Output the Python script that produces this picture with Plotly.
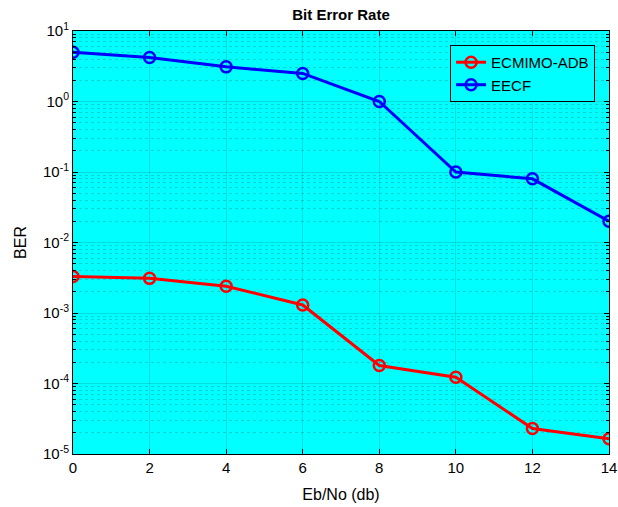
import plotly.graph_objects as go

ebno = [0, 2, 4, 6, 8, 10, 12, 14]
ber_ecmimo = [3.3e-3, 3.1e-3, 2.4e-3, 1.3e-3, 1.8e-4, 1.23e-4, 2.3e-5, 1.65e-5]
ber_eecf = [5.0, 4.2, 3.1, 2.5, 1.0, 0.1, 0.08, 0.02]
y_exponents = [-5, -4, -3, -2, -1, 0, 1]
x_ticks = [0, 2, 4, 6, 8, 10, 12, 14]

def sup(e):
    return "10<sup>%d</sup>" % e

ytickvals = [10.0 ** e for e in y_exponents]
yticktext = [sup(e) for e in y_exponents]
minor_vals = [k * 10.0 ** e for e in y_exponents[:-1] for k in range(2, 10)]

fig = go.Figure()
fig.add_trace(go.Scatter(x=ebno, y=ber_ecmimo, mode="lines+markers", name="ECMIMO-ADB",
                         line=dict(color="#ff0000", width=3),
                         marker=dict(symbol="circle-open", size=11, color="#ff0000", line=dict(width=2.5, color="#ff0000"))))
fig.add_trace(go.Scatter(x=ebno, y=ber_eecf, mode="lines+markers", name="EECF",
                         line=dict(color="#0000ff", width=3),
                         marker=dict(symbol="circle-open", size=11, color="#0000ff", line=dict(width=2.5, color="#0000ff"))))

font = "Liberation Sans, Arial, sans-serif"
W, H = 618, 507
fig.update_layout(
    width=W, height=H,
    margin=dict(l=73, r=9, t=31, b=53, autoexpand=False),
    paper_bgcolor="white", plot_bgcolor="#00ffff",
    font=dict(family=font, size=15, color="black"),
    title=dict(text="<b>Bit Error Rate</b>", x=(73 + 609) / 2 / W, xanchor="center",
               y=1 - 15 / H, yanchor="middle", font=dict(size=15, family=font)),
    showlegend=True,
    legend=dict(x=0.974, y=0.967, xanchor="right", yanchor="top",
                bgcolor="#00ffff", bordercolor="black", borderwidth=1,
                font=dict(size=15, family=font), tracegroupgap=0),
)
fig.update_xaxes(range=[0, 14], tickvals=x_ticks, ticks="inside", ticklen=5, tickcolor="black",
                 showline=True, linecolor="black", linewidth=1, mirror="ticks",
                 showgrid=True, gridcolor="rgba(0,0,0,0.13)", gridwidth=1, zeroline=False,
                 title=dict(text="Eb/No (db)", font=dict(size=16), standoff=13),
                 tickfont=dict(size=15), automargin=False)
fig.update_yaxes(type="log", range=[-5, 1], tickmode="array", tickvals=ytickvals, ticktext=yticktext,
                 ticks="inside", ticklen=5, tickcolor="black",
                 showline=True, linecolor="black", linewidth=1, mirror="ticks",
                 showgrid=True, gridcolor="rgba(0,0,0,0.13)", gridwidth=1, zeroline=False,
                 minor=dict(tickmode="array", tickvals=minor_vals, ticks="inside", ticklen=3,
                            tickcolor="black", showgrid=True, gridcolor="rgba(0,0,0,0.16)",
                            griddash="dot", gridwidth=1),
                 title=dict(text="BER", font=dict(size=16), standoff=12),
                 tickfont=dict(size=15), automargin=False)
fig.write_html("out.html", config={"displayModeBar": False},
               post_script="document.body.style.margin='0';document.body.style.overflow='hidden';")
